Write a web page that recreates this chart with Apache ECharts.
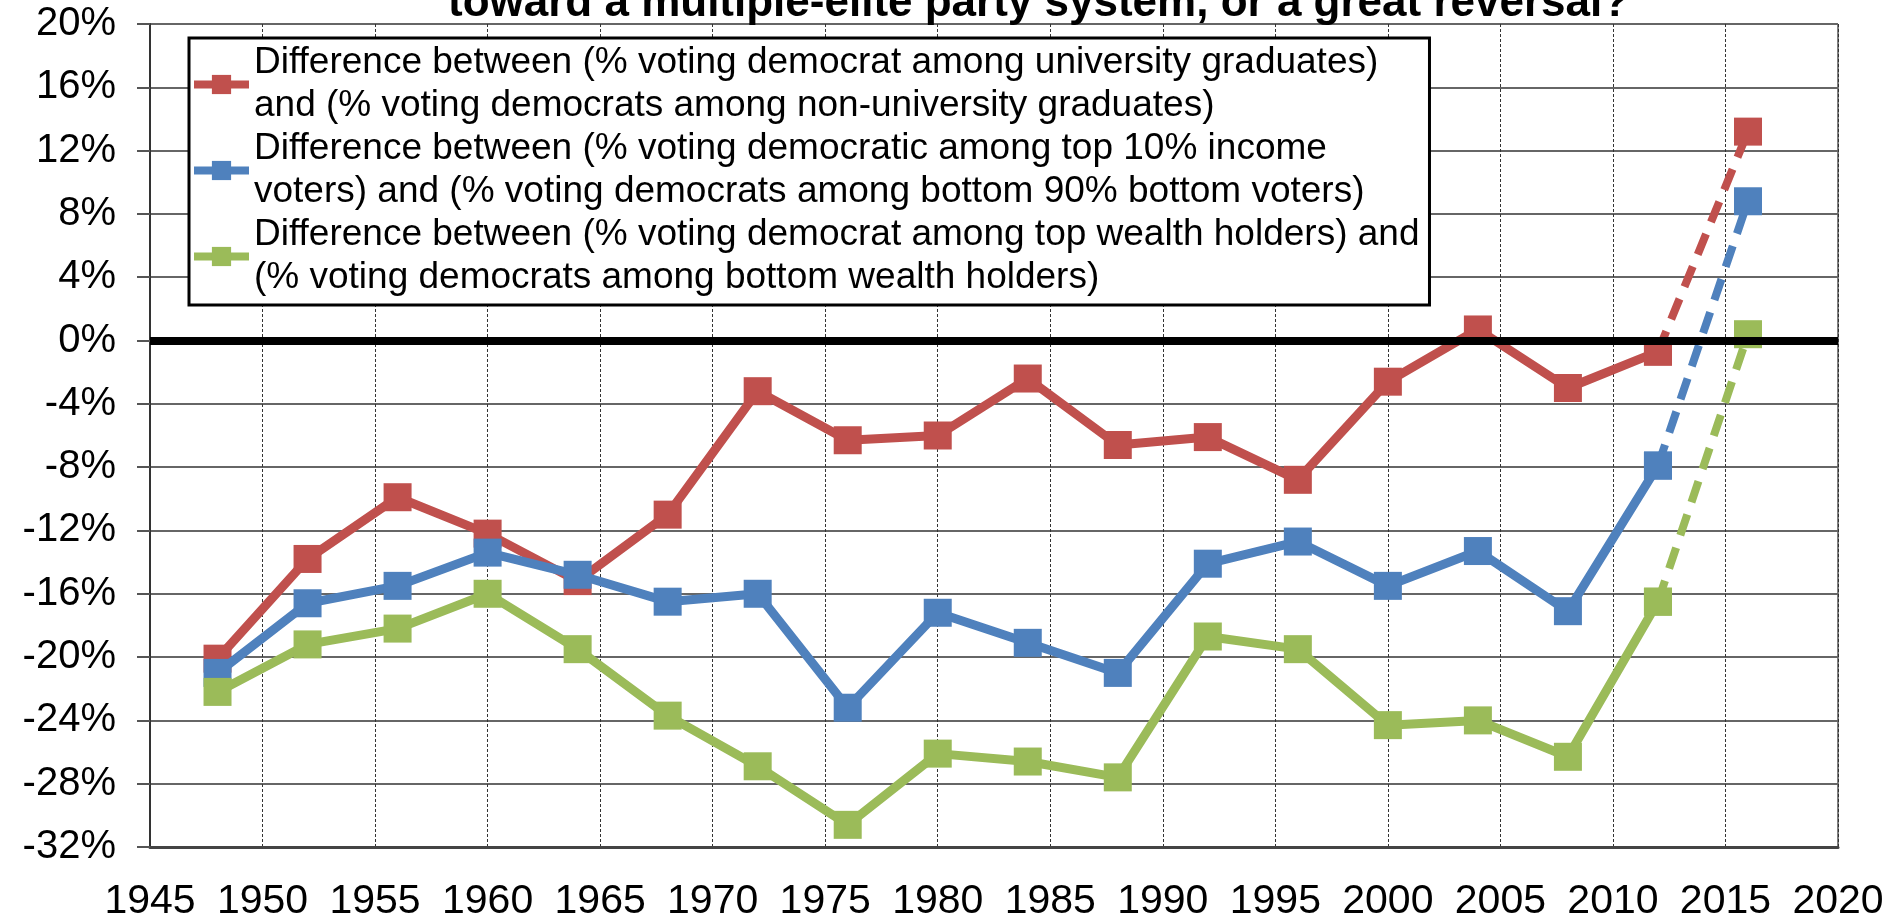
<!DOCTYPE html>
<html>
<head>
<meta charset="utf-8">
<script src="https://cdn.jsdelivr.net/npm/echarts@6/dist/echarts.min.js"></script>
<style>
    html, body { margin: 0; padding: 0; background: #fff; }
    #chart { width: 1904px; height: 919px; }
</style>
</head>
<body>
<div id="chart"></div>
<script>
// years of the US elections
var years = [1948, 1952, 1956, 1960, 1964, 1968, 1972, 1976, 1980, 1984, 1988, 1992, 1996, 2000, 2004, 2008, 2012, 2016];

// differences, in %
var univGap   = [-20.1, -13.8, -9.9, -12.2, -15.2, -11.0, -3.2, -6.3, -6.0, -2.4, -6.6, -6.1, -8.8, -2.6, 0.7, -3.0, -0.7, 13.2];
var incomeGap = [-21.0, -16.6, -15.5, -13.4, -14.8, -16.5, -16.0, -23.2, -17.2, -19.1, -21.0, -14.1, -12.7, -15.5, -13.3, -17.1, -7.9, 8.8];
var wealthGap = [-22.2, -19.2, -18.2, -16.0, -19.5, -23.7, -26.9, -30.6, -26.1, -26.6, -27.6, -18.7, -19.5, -24.3, -24.0, -26.3, -16.5, 0.4];

var names = [
    'Difference between (% voting democrat among university graduates)\nand (% voting democrats among non-university graduates)',
    'Difference between (% voting democratic among top 10% income\nvoters) and (% voting democrats among bottom 90% bottom voters)',
    'Difference between (% voting democrat among top wealth holders) and\n(% voting democrats among bottom wealth holders)'
];
var colors = ['#c0504d', '#4f81bd', '#9bbb59'];
var title = 'toward a multiple-elite party system, or a great reversal?';

// 1948-2012 drawn solid, 2012-2016 dashed
function solidPart(vals) {
    var out = [];
    for (var i = 0; i < years.length - 1; i++) out.push([years[i], vals[i]]);
    return out;
}
function dashPart(vals) {
    var n = years.length;
    return [[years[n - 2], vals[n - 2]], [years[n - 1], vals[n - 1]]];
}

var font = '"Liberation Sans", Arial, sans-serif';
var myChart = echarts.init(document.getElementById('chart'));

var series = [];
[univGap, incomeGap, wealthGap].forEach(function (vals, i) {
    series.push({
        name: names[i],
        type: 'line',
        data: solidPart(vals),
        symbol: 'rect',
        symbolSize: 28,
        lineStyle: { width: 9, color: colors[i] },
        itemStyle: { color: colors[i] },
        z: 3 + i
    });
    series.push({
        name: names[i] + ' ',
        type: 'line',
        data: dashPart(vals),
        symbol: 'rect',
        symbolSize: 28,
        lineStyle: { width: 8, color: colors[i], type: [22, 13] },
        itemStyle: { color: colors[i] },
        z: 3 + i
    });
});

// thick black zero line
series[0].markLine = {
    silent: true,
    symbol: 'none',
    label: { show: false },
    lineStyle: { color: '#000', width: 8, type: 'solid' },
    data: [{ yAxis: 0 }],
    z: 10
};

var option = {
    animation: false,
    textStyle: { fontFamily: font },
    title: {
        text: title,
        left: 443,
        top: -23,
        textStyle: { fontSize: 44, fontWeight: 'bold', color: '#000', fontFamily: font }
    },
    legend: {
        data: names,
        orient: 'vertical',
        left: 189,
        top: 38,
        itemGap: -43,
        padding: [-18, 10, -16, 1],
        itemWidth: 55,
        itemHeight: 24,
        lineStyle: { width: 8 },
        backgroundColor: '#fff',
        borderColor: '#000',
        borderWidth: 3,
        textStyle: { fontSize: 37, lineHeight: 43, color: '#000', fontFamily: font, padding: [43, 0, 0, 0] }
    },
    grid: {
        left: 150,
        right: 66,
        top: 24,
        bottom: 72,
        outerBoundsMode: 'none',
        show: true,
        borderColor: '#000',
        borderWidth: 1
    },
    xAxis: {
        type: 'value',
        min: 1945,
        max: 2020,
        interval: 5,
        axisLine: { onZero: false, lineStyle: { color: '#444', width: 3 } },
        axisTick: { show: false },
        axisLabel: {
            color: '#000', fontSize: 41, margin: 34, fontFamily: font,
            formatter: function (v) { return String(v); }
        },
        splitLine: { show: true, lineStyle: { color: '#333', width: 1, type: [3, 2] } }
    },
    yAxis: {
        type: 'value',
        min: -32,
        max: 20,
        interval: 4,
        axisLine: { show: true, lineStyle: { color: '#333', width: 2 } },
        axisTick: { show: true, length: 13, lineStyle: { color: '#555', width: 2 } },
        axisLabel: {
            color: '#000', fontSize: 40, margin: 34, fontFamily: font,
            formatter: function (v) { return v + '%'; }
        },
        splitLine: { show: true, lineStyle: { color: '#666', width: 2 } }
    },
    series: series
};
myChart.setOption(option);
</script>
</body>
</html>
